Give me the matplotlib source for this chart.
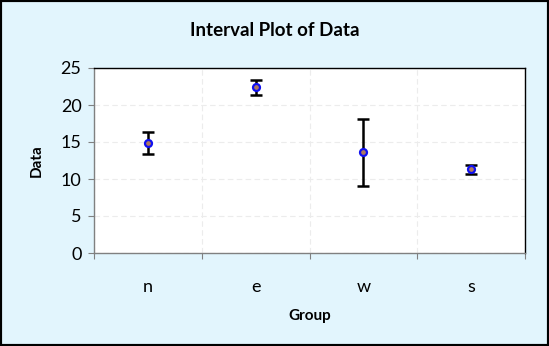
import matplotlib.pyplot as plt
import numpy as np

plt.rcParams['font.family'] = ['Lato', 'DejaVu Sans']

groups = ['n', 'e', 'w', 's']
means = [14.9, 22.5, 13.65, 11.35]
upper = [16.35, 23.4, 18.1, 11.9]
lower = [13.4, 21.3, 9.05, 10.7]

fig = plt.figure(figsize=(5.49, 3.46), dpi=100, facecolor='#e2f5fd')
ax = fig.add_axes([94 / 549, 1 - 253 / 346, 431 / 549, 185 / 346])
ax.set_facecolor('white')

x = np.arange(len(groups)) + 0.5
yerr = [np.array(means) - np.array(lower), np.array(upper) - np.array(means)]
ax.errorbar(x, means, yerr=yerr, fmt='none', ecolor='black', elinewidth=1.8,
            capsize=4, capthick=1.8, zorder=3)
ax.plot(x, means, 'o', ms=5, mfc='#b07a60', mec='#1010f0', mew=1.6, zorder=4)

ax.set_xlim(0, len(groups))
ax.set_ylim(0, 25)
ax.set_yticks(range(0, 26, 5))
ax.set_xticks(range(len(groups) + 1))
ax.set_xticklabels([])
ax.set_xticks(x, minor=True)
ax.set_xticklabels(groups, minor=True)
ax.tick_params(axis='x', which='minor', length=0, pad=19, labelsize=13)
ax.tick_params(axis='x', which='major', length=4, color='#808080')
ax.tick_params(axis='y', length=4, color='#808080', labelsize=13, pad=5)

ax.grid(True, axis='both', which='major', color='#ececec', linestyle=(0, (5, 3)), lw=0.8)
ax.set_axisbelow(True)

for side in ['top', 'right']:
    ax.spines[side].set_color('black')
    ax.spines[side].set_linewidth(1)
for side in ['left', 'bottom']:
    ax.spines[side].set_color('#808080')
    ax.spines[side].set_linewidth(1)

ax.set_xlabel('Group', fontsize=11, fontweight='bold', labelpad=10)
ax.set_ylabel('Data', fontsize=11, fontweight='bold', labelpad=12)
fig.text(0.5, 1 - 30 / 346, 'Interval Plot of Data', ha='center', va='center',
         fontsize=13.5, fontweight='bold')

border = plt.Rectangle((0, 0), 1, 1, transform=fig.transFigure, fill=False,
                       edgecolor='black', linewidth=3)
fig.add_artist(border)

fig.savefig('out.png', dpi=100, facecolor=fig.get_facecolor())
